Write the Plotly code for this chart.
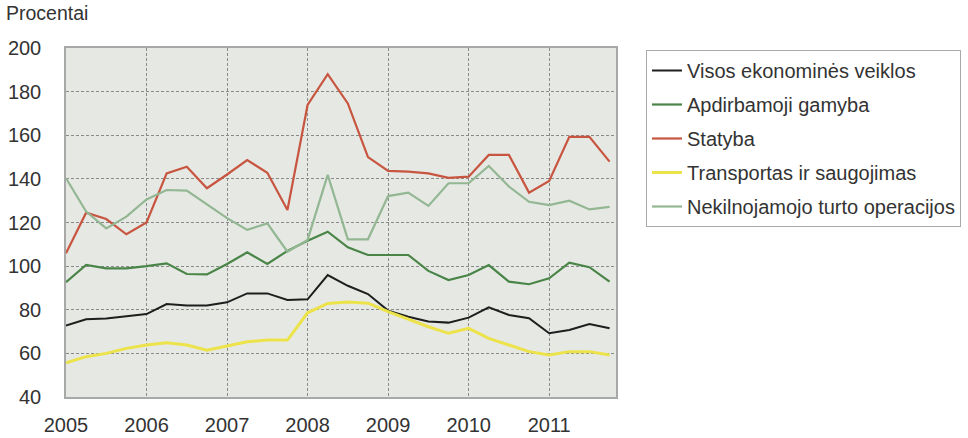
import plotly.graph_objects as go

quarters = [2005 + i / 4 for i in range(28)]
years = [2005, 2006, 2007, 2008, 2009, 2010, 2011]
y_ticks = [40, 60, 80, 100, 120, 140, 160, 180, 200]

visos = [72.7, 75.6, 76.0, 77.1, 78.0, 82.6, 81.9, 81.9, 83.4, 87.5, 87.5, 84.5, 84.8, 95.9,
         91.0, 87.2, 79.6, 76.8, 74.6, 74.1, 76.4, 81.1, 77.6, 76.1, 69.2, 70.7, 73.5, 71.5]
apdirb = [92.6, 100.5, 99.0, 99.0, 100.0, 101.3, 96.4, 96.2, 101.0, 106.3, 101.0, 107.0, 111.6, 115.8,
          108.6, 105.1, 105.1, 105.1, 97.8, 93.6, 95.9, 100.5, 92.9, 91.7, 94.4, 101.6, 99.5, 92.9]
statyba = [105.9, 124.5, 121.6, 114.6, 120.0, 142.5, 145.6, 135.7, 142.0, 148.6, 142.8, 125.7, 173.9, 188.0,
           174.6, 150.0, 143.7, 143.3, 142.5, 140.5, 141.0, 151.0, 151.0, 133.7, 139.0, 159.3, 159.3, 147.9]
transport = [55.7, 58.5, 60.0, 62.3, 63.8, 64.9, 63.8, 61.5, 63.4, 65.3, 66.1, 66.1, 78.6, 82.9,
             83.5, 83.0, 79.1, 75.6, 72.2, 69.2, 71.5, 66.9, 63.8, 60.8, 59.3, 60.8, 60.8, 59.3]
nekiln = [140.3, 125.0, 117.3, 122.7, 130.6, 134.9, 134.6, 128.5, 122.0, 116.6, 119.6, 106.6, 112.0, 141.8,
          112.3, 112.3, 132.1, 133.7, 127.6, 138.0, 138.0, 145.9, 136.5, 129.5, 128.0, 130.0, 126.0, 127.2]

series = [
    ("Visos ekonominės veiklos", visos, "#1e1e1e", 2),
    ("Apdirbamoji gamyba", apdirb, "#4a8548", 2.2),
    ("Statyba", statyba, "#c8553f", 2.2),
    ("Transportas ir saugojimas", transport, "#ece34a", 3),
    ("Nekilnojamojo turto operacijos", nekiln, "#93b792", 2.2),
]

FONT = "Liberation Sans, Arial, sans-serif"

fig = go.Figure()
for i, (name, vals, color, w) in enumerate(series):
    fig.add_trace(go.Scatter(x=quarters, y=vals, mode="lines", name=name,
                             legendgroup=f"g{i}",
                             line=dict(color=color, width=w)))

fig.update_layout(
    width=968, height=438,
    margin=dict(l=66, r=352, t=48, b=41, autoexpand=False),
    paper_bgcolor="white",
    plot_bgcolor="#e6e8e4",
    font=dict(family=FONT, size=20, color="#333333"),
    title=dict(text="Procentai", x=6 / 968, xanchor="left", xref="container",
               y=1 - 13 / 438, yanchor="middle", yref="container",
               font=dict(family=FONT, size=19.5, color="#333333")),
    legend=dict(x=(646 - 66) / 550, xanchor="left", y=1 - 2 / 349, yanchor="top",
                bgcolor="white", bordercolor="#aaaaaa", borderwidth=1,
                font=dict(family=FONT, size=20, color="#333333"),
                tracegroupgap=5, traceorder="grouped"),
    showlegend=True,
)
fig.update_xaxes(range=[2005, 2011.83], tickvals=years, ticktext=[str(y) for y in years],
                 showgrid=True, gridcolor="#8a8a8a", griddash="3px,2px", gridwidth=1,
                 showline=True, linecolor="#a8a8a8", linewidth=1.5, mirror=True,
                 ticks="", ticklabelstandoff=9, zeroline=False, automargin=False,
                 tickfont=dict(family=FONT, size=20, color="#333333"))
fig.update_yaxes(range=[40, 200], tickvals=y_ticks,
                 showgrid=True, gridcolor="#8a8a8a", griddash="3px,2px", gridwidth=1,
                 showline=True, linecolor="#a8a8a8", linewidth=1.5, mirror=True,
                 ticks="", ticklabelstandoff=19, zeroline=False, automargin=False,
                 tickfont=dict(family=FONT, size=20, color="#333333"))

fig.write_html("out.html")
